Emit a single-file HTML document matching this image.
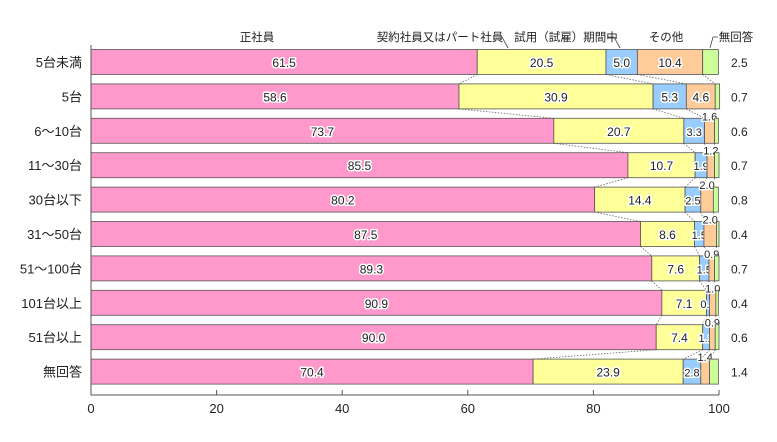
<!DOCTYPE html>
<html><head><meta charset="utf-8"><style>
body{margin:0;background:#fff;}
svg text{font-family:"Liberation Sans","Noto Sans CJK JP",sans-serif;}
.v{paint-order:stroke;stroke:#fff;stroke-width:3px;stroke-linejoin:round;fill:#222;}
</style></head><body>
<svg id="c" width="777" height="437" xmlns="http://www.w3.org/2000/svg"></svg>
<script>
const categories=["5台未満","5台","6～10台","11～30台","30台以下","31～50台","51～100台","101台以上","51台以上","無回答"];
const seishain=[61.5,58.6,73.7,85.5,80.2,87.5,89.3,90.9,90.0,70.4];
const keiyaku=[20.5,30.9,20.7,10.7,14.4,8.6,7.6,7.1,7.4,23.9];
const shiyo=[5.0,5.3,3.3,1.9,2.5,1.5,1.5,0.5,1.1,2.8];
const sonota=[10.4,4.6,1.6,1.2,2.0,2.0,0.9,1.0,0.9,1.4];
const mukaitou=[2.5,0.7,0.6,0.7,0.8,0.4,0.7,0.4,0.6,1.4];
const ticks=[0,20,40,60,80,100];
const seriesNames=["正社員","契約社員又はパート社員","試用（試雇）期間中","その他","無回答"];
const svg=document.getElementById('c');const NS="http://www.w3.org/2000/svg";
const X0=91,X1=719;const xs=v=>X0+(X1-X0)*v/100;
const cy=i=>62+i*34.4;const BH=25;
function mk(t,a,p){const e=document.createElementNS(NS,t);for(const k in a)e.setAttribute(k,a[k]);(p||svg).appendChild(e);return e;}
const series=[seishain,keiyaku,shiyo,sonota,mukaitou];
const colors=["#ff99cc","#ffff99","#99ccff","#ffcc99","#ccff99"];
const names=["seishain","keiyaku","shiyo","sonota","mukaitou"];
// connectors
for(let i=0;i<categories.length-1;i++){let a=0,b=0;for(let s=0;s<4;s++){a+=series[s][i];b+=series[s][i+1];
const l=mk('line',{x1:xs(a),y1:cy(i)+BH/2,x2:xs(b),y2:cy(i+1)-BH/2,stroke:'#666','stroke-width':0.8,'stroke-dasharray':'1.5,1.5'});

}}
categories.forEach((c,i)=>{let acc=0;
const lb=mk('text',{x:82,y:cy(i)+5,'text-anchor':'end','font-size':13,fill:'#222'});lb.textContent=c;


series.forEach((sr,s)=>{const v=sr[i];const x=xs(acc),w=xs(acc+v)-xs(acc);
const r=mk('rect',{x:x,y:cy(i)-BH/2,width:w,height:BH,fill:colors[s],stroke:'#555','stroke-width':0.8});


let t;
if(s==4){t=mk('text',{x:X1+12,y:cy(i)+5,'font-size':12,fill:'#222'});}
else if(s==3&&v<3){t=mk('text',{x:x+w/2,y:cy(i)-BH/2+2,'text-anchor':'middle','font-size':11,class:'v'});}
else{t=mk('text',{x:x+w/2,y:cy(i)+5,'text-anchor':'middle','font-size':(w<22?11:12),class:'v'});}
t.textContent=v.toFixed(1);


acc+=v;});});
// axis
const ay=395;
const ax=mk('line',{x1:X0,y1:ay,x2:X1,y2:ay,stroke:'#555','stroke-width':1});


mk('line',{x1:X0,y1:45,x2:X0,y2:ay,stroke:'#555','stroke-width':1});
ticks.forEach(t=>{mk('line',{x1:xs(t),y1:ay-5,x2:xs(t),y2:ay,stroke:'#555'});
const tt=mk('text',{x:xs(t),y:ay+18,'text-anchor':'middle','font-size':13,fill:'#222'});tt.textContent=t;

});
// legend labels
const lg=[[257,"正社員"],[440,"契約社員又はパート社員"],[566,"試用（試雇）期間中"],[666,"その他"],[736,"無回答"]];
lg.forEach((p,k)=>{const t=mk('text',{x:p[0],y:41,'text-anchor':'middle','font-size':11.5,fill:'#222'});t.textContent=p[1];

});
mk('path',{d:'M496,37 L502,37 L508,48',fill:'none',stroke:'#444','stroke-width':0.8});
mk('path',{d:'M608,37 L614,37 L620,48',fill:'none',stroke:'#444','stroke-width':0.8});
mk('path',{d:'M718,37 L713,37 L710,48',fill:'none',stroke:'#444','stroke-width':0.8});
</script>
</body></html>
